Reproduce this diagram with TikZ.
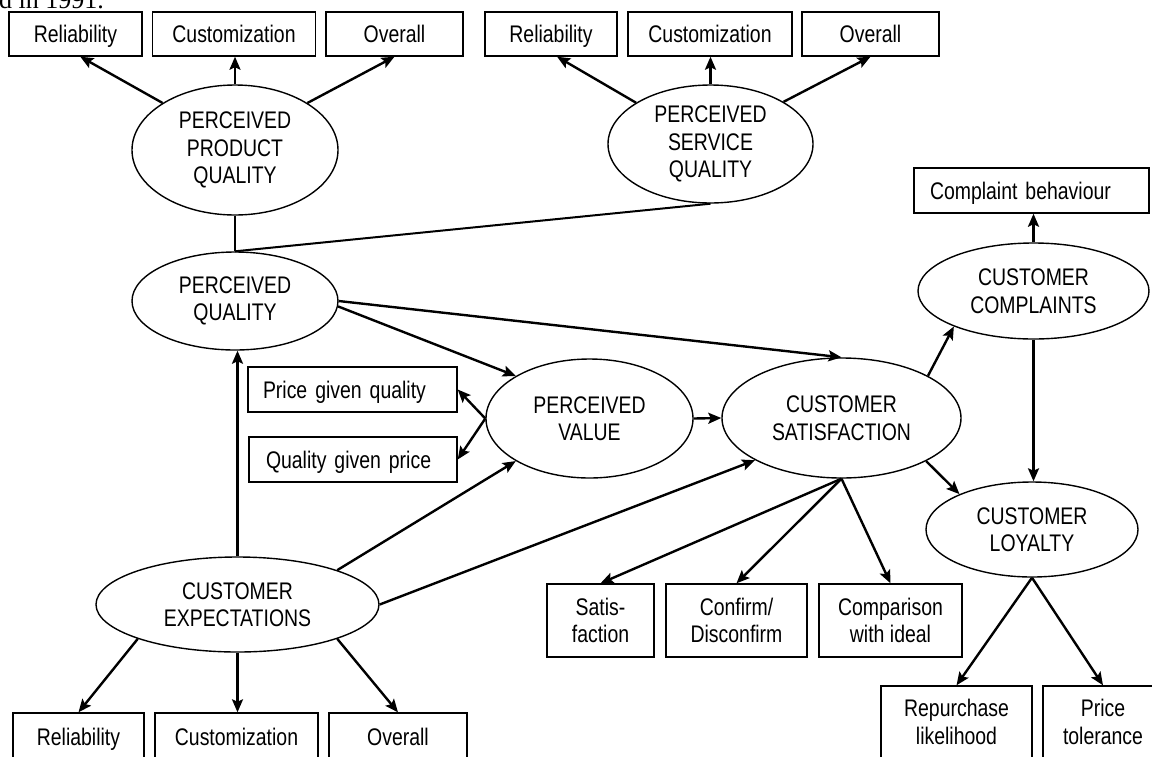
\documentclass[tikz,border=0pt]{standalone}
\usepackage{fontspec}
\setmainfont{Liberation Sans}[FakeStretch=0.81]
\newfontfamily\captionfont{Liberation Serif}
\usetikzlibrary{shapes.geometric,arrows.meta}
\newcommand\diagfont{\fontsize{24}{27.5}\selectfont\spaceskip 5.5pt\relax}

\begin{document}
\begin{tikzpicture}[x=1pt, y=-1pt, font=\diagfont,
  box/.style={rectangle, draw, line width=1.4pt, inner sep=0pt, align=center},
  measure/.style={box, minimum height=44pt, text depth=0pt},
  latent/.style={ellipse, draw, line width=1.4pt, inner sep=0pt, align=center},
  link/.style={line width=2.4pt, -{Stealth[length=13pt, width=11pt, inset=2.5pt]}}]

\fill[white] (0,0) rectangle (1152,756);
\useasboundingbox (0,0) rectangle (1152,756);

% Cut-off line of the text above the figure.
\node[font=\captionfont\fontsize{26}{30}\selectfont, anchor=base west, inner sep=0pt] (cap) at (-1,8) {d in 1991.};

\node[measure, minimum width=133pt] (rel1) at (75.5,34) {Reliability};
\node[measure, minimum width=163pt] (cus1) at (234,34) {Customization};
\node[measure, minimum width=137pt] (ove1) at (394.5,34) {Overall};
\node[measure, minimum width=132pt] (rel2) at (551,34) {Reliability};
\node[measure, minimum width=164pt] (cus2) at (710,34) {Customization};
\node[measure, minimum width=137pt] (ove2) at (870.5,34) {Overall};

\node[latent, minimum width=206pt, minimum height=130pt] (ppq) at (235,150) {PERCEIVED\\PRODUCT\\QUALITY};
\node[latent, minimum width=205pt, minimum height=118pt] (psq) at (710.5,144) {PERCEIVED\\SERVICE\\QUALITY};
\node[latent, minimum width=206pt, minimum height=98pt] (pq) at (235,301) {PERCEIVED\\QUALITY};
\node[latent, minimum width=207pt, minimum height=119pt] (pv) at (589.5,418.5) {PERCEIVED\\VALUE};
\node[latent, minimum width=239pt, minimum height=120pt] (cs) at (841.5,418) {CUSTOMER\\SATISFACTION};
\node[latent, minimum width=231pt, minimum height=96pt] (cc) at (1033.5,291) {CUSTOMER\\COMPLAINTS};
\node[latent, minimum width=212pt, minimum height=95pt] (cl) at (1032,529.5) {CUSTOMER\\LOYALTY};
\node[latent, minimum width=283pt, minimum height=95pt] (ce) at (237.5,604.5) {CUSTOMER\\EXPECTATIONS};

\node[measure, minimum height=45pt, text width=179pt, inner xsep=15pt, align=left] (pgq) at (352.5,389.5) {Price given quality};
\node[measure, minimum height=45pt, text width=174pt, inner xsep=17pt, align=left] (qgp) at (353,459.5) {Quality given price};
\node[measure, minimum height=45pt, text width=203pt, inner xsep=16pt, align=left] (cb) at (1031.5,190.5) {Complaint behaviour};

\node[box, minimum width=107pt, minimum height=73pt] (satis) at (600.5,620.5) {Satis-\\faction};
\node[box, minimum width=141pt, minimum height=73pt] (conf) at (736.5,620.5) {Confirm/\\Disconfirm};
\node[box, minimum width=143pt, minimum height=73pt] (comp) at (890.5,620.5) {Comparison\\with ideal};

\node[measure, minimum width=131pt, minimum height=48pt] (rel3) at (78.5,737) {Reliability};
\node[measure, minimum width=163pt, minimum height=48pt] (cus3) at (236.5,737) {Customization};
\node[measure, minimum width=138pt, minimum height=48pt] (ove3) at (398,737) {Overall};
\node[box, minimum width=151pt, minimum height=72pt] (rep) at (956.5,722) {Repurchase\\likelihood};
\node[box, minimum width=120pt, minimum height=72pt] (tol) at (1103,722) {Price\\tolerance};

\draw[link] (ppq.147) -- (rel1.-78);
\draw[link] (ppq.north) -- (ppq.north |- cus1.south);
\draw[link] (ppq.33) -- (ove1.south);
\draw[link] (psq.151) -- (rel2.-75);
\draw[link] (psq.north) -- (psq.north |- cus2.south);
\draw[link] (psq.30) -- (ove2.south);

\draw[line width=1.4pt] (ppq.south) -- (pq.north);
\draw[line width=2pt] (psq.south) -- (pq.north);

\draw[link] (ce.north) -- (ce.north |- pq.south);
\draw[link] (pq.east) -- (cs.north);
\draw[link] (pq.-3) -- (pv.150);
\draw[link] (pv.west) -- (pgq.east);
\draw[link] (pv.west) -- (qgp.east);
\draw[link] (ce.19) -- (pv.210);
\draw[link] (ce.east) -- (cs.206);
\draw[link] (pv.east) -- (cs.west);

\draw[link] (cs.26) -- (cc.204);
\draw[link] (cc.north) -- (cc.north |- cb.south);
\draw[link] (cc.south) -- (cc.south |- cl.north);
\draw[link] (cs.-27) -- (cl.154);

\draw[link] (cs.south) -- (satis.north);
\draw[link] (cs.south) -- (conf.north);
\draw[link] (cs.south) -- (comp.north);
\draw[link] (cl.south) -- (rep.north);
\draw[link] (cl.south) -- (tol.north);

\draw[link] (ce.199) -- (rel3.north);
\draw[link] (ce.south) -- (ce.south |- cus3.north);
\draw[link] (ce.-19) -- (ove3.north);

\end{tikzpicture}
\end{document}
